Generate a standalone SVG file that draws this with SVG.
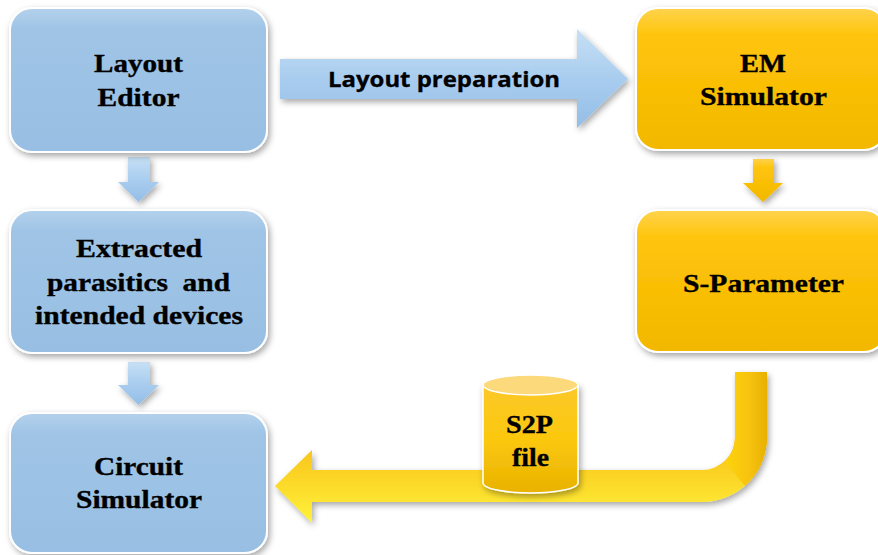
<svg xmlns="http://www.w3.org/2000/svg" width="878" height="555" viewBox="0 0 878 555">
<defs>
<linearGradient id="gBlue" x1="0" y1="0" x2="0" y2="1">
<stop offset="0" stop-color="#b4d1ec"/><stop offset="0.15" stop-color="#9fc4e6"/><stop offset="1" stop-color="#98bfe3"/>
</linearGradient>
<linearGradient id="gYel" x1="0" y1="0" x2="0" y2="1">
<stop offset="0" stop-color="#ffd34d"/><stop offset="0.2" stop-color="#ffc40a"/><stop offset="1" stop-color="#f2b800"/>
</linearGradient>
<linearGradient id="gArrB" x1="0" y1="0" x2="0" y2="1">
<stop offset="0" stop-color="#c6e0f5"/><stop offset="0.5" stop-color="#a9cdef"/><stop offset="1" stop-color="#94bde6"/>
</linearGradient>
<linearGradient id="gArrY" x1="0" y1="0" x2="0" y2="1">
<stop offset="0" stop-color="#f0b400"/><stop offset="0.5" stop-color="#f9c31a"/><stop offset="1" stop-color="#fff23a"/>
</linearGradient>
<linearGradient id="gArrY2" x1="0" y1="0" x2="1" y2="0">
<stop offset="0" stop-color="#fdd40c"/><stop offset="0.6" stop-color="#f7c20f"/><stop offset="1" stop-color="#e8b000"/>
</linearGradient>
<linearGradient id="gCyl" x1="0" y1="0" x2="0" y2="1">
<stop offset="0" stop-color="#fbc82a"/><stop offset="0.5" stop-color="#fcc80e"/><stop offset="1" stop-color="#e8b200"/>
</linearGradient>
<filter id="sh" x="-10%" y="-10%" width="125%" height="130%">
<feDropShadow dx="2" dy="3" stdDeviation="3" flood-color="#000" flood-opacity="0.35"/>
</filter>
</defs>
<style>
.bb{fill:url(#gBlue);stroke:#ffffff;stroke-width:2;filter:url(#sh)}
.yb{fill:url(#gYel);stroke:#ffffff;stroke-width:2;filter:url(#sh)}
.t{font-family:"Liberation Serif","Times New Roman",serif;font-weight:bold;font-size:26px;fill:#000;stroke:#000;stroke-width:0.35;text-anchor:middle;white-space:pre}
.s{font-family:"Open Sans","Liberation Sans",sans-serif;font-weight:bold;font-size:21px;fill:#000;stroke:#000;stroke-width:0.3;text-anchor:middle}
.ba{fill:url(#gArrB);filter:url(#sh)}
.ya{fill:url(#gYel);filter:url(#sh)}
</style>
<rect width="878" height="555" fill="#ffffff"/>
<g id="connectors">
<path id="arr-prep" class="ba" d="M280,59 L577,59 L577,29 L628,79 L577,128 L577,99 L280,99 Z"/>
<text class="s" x="444" y="87" textLength="232" lengthAdjust="spacingAndGlyphs">Layout preparation</text>
<path id="arr-blue1" class="ba" d="M128,157 L150,157 L150,182 L159,182 L138.5,202 L118,182 L128,182 Z"/>
<path id="arr-blue2" class="ba" d="M128,362 L150,362 L150,385 L159,385 L138.5,405 L118,385 L128,385 Z"/>
<path id="arr-yel1" class="ya" d="M753,159 L774,159 L774,183 L783,183 L763,202 L743,183 L753,183 Z"/>
<path id="arr-s2p" fill="url(#gArrY)" filter="url(#sh)" d="M735,372 L767,372 L767,437 A65,65 0 0 1 702,502 L312,502 L312,523 L275,486 L312,450 L312,470 L702,470 A33,33 0 0 0 735,437 Z"/>
<path fill="url(#gArrY2)" d="M735,372 L767,372 L767,437 A65,65 0 0 1 745,486 L725,462 A33,33 0 0 0 735,437 Z"/>
</g>
<g id="node-layout-editor">
<rect class="bb" x="10" y="8" width="257" height="144" rx="22"/>
<text class="t" x="138.5" y="72" textLength="89" lengthAdjust="spacingAndGlyphs">Layout</text>
<text class="t" x="138.5" y="106" textLength="82" lengthAdjust="spacingAndGlyphs">Editor</text>
</g>
<g id="node-extracted">
<rect class="bb" x="10" y="210" width="257" height="143" rx="22"/>
<text class="t" x="139" y="257" textLength="126" lengthAdjust="spacingAndGlyphs">Extracted</text>
<text class="t" x="138.5" y="291" textLength="183" lengthAdjust="spacingAndGlyphs" xml:space="preserve">parasitics  and</text>
<text class="t" x="139" y="324" textLength="208" lengthAdjust="spacingAndGlyphs">intended devices</text>
</g>
<g id="node-circuit-sim">
<rect class="bb" x="10" y="413" width="257" height="140" rx="22"/>
<text class="t" x="138.5" y="475" textLength="89" lengthAdjust="spacingAndGlyphs">Circuit</text>
<text class="t" x="139" y="508" textLength="126" lengthAdjust="spacingAndGlyphs">Simulator</text>
</g>
<g id="node-em-sim">
<rect class="yb" x="636" y="8" width="250" height="142" rx="22"/>
<text class="t" x="763" y="72" textLength="46" lengthAdjust="spacingAndGlyphs">EM</text>
<text class="t" x="763.5" y="105" textLength="127" lengthAdjust="spacingAndGlyphs">Simulator</text>
</g>
<g id="node-sparam">
<rect class="yb" x="636" y="210" width="250" height="142" rx="22"/>
<text class="t" x="763.5" y="292" textLength="161" lengthAdjust="spacingAndGlyphs">S-Parameter</text>
</g>
<g id="node-s2p">
<path d="M483,385 L483,483 A47.5,10 0 0 0 578,483 L578,385 Z" fill="url(#gCyl)" stroke="#ffffff" stroke-width="1.5" filter="url(#sh)"/>
<ellipse cx="530.5" cy="385" rx="47.5" ry="10" fill="#fcd97a" stroke="#ffffff" stroke-width="1.5"/>
<text class="t" x="529.5" y="433" textLength="47" lengthAdjust="spacingAndGlyphs">S2P</text>
<text class="t" x="530.5" y="466" textLength="37" lengthAdjust="spacingAndGlyphs">file</text>
</g>
</svg>
